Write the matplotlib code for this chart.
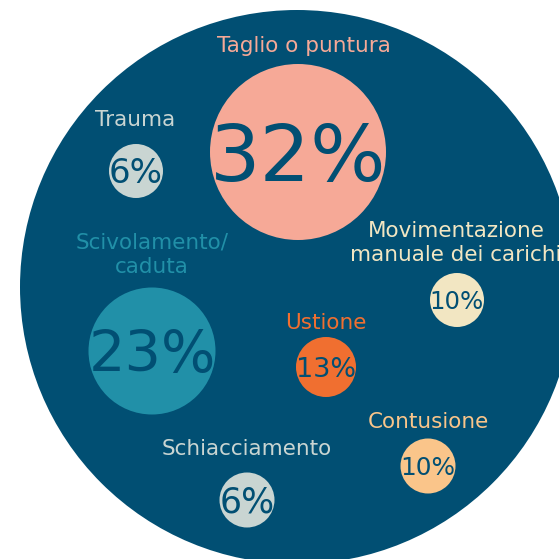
import matplotlib
matplotlib.use("Agg")
import matplotlib.pyplot as plt
from matplotlib.patches import Circle

# dati
categorie = ["Taglio o puntura", "Trauma", "Scivolamento/\ncaduta",
             "Movimentazione\nmanuale dei carichi", "Ustione",
             "Contusione", "Schiacciamento"]
percentuali = [32, 6, 23, 10, 13, 10, 6]

# layout (pixel)
bolla_x = [298, 136, 152, 457, 326, 428, 247]
bolla_y = [152, 171, 351, 300, 367, 466, 500]
bolla_r = [88, 27, 63.5, 27, 30, 27.5, 27.5]
etich_y = [46, 120, 255, 243, 323, 422, 449]
etich_x = [304, 135, 152, 456, 326, 428, 247]

blu = "#014f73"
colori = ["#f6a997", "#c9d5d2", "#2190a8", "#f2e6c2", "#f06f30", "#fac58a", "#c9d5d2"]
colori_testo = ["#f6a997", "#c9d5d2", "#2190a8", "#f2e6c2", "#f06f30", "#fac58a", "#c9d5d2"]

W = 559
fig = plt.figure(figsize=(W / 100, W / 100), dpi=100)
ax = fig.add_axes([0, 0, 1, 1])
ax.set_xlim(0, W)
ax.set_ylim(W, 0)
ax.set_aspect("equal")
ax.axis("off")

# cerchio grande di sfondo
ax.add_patch(Circle((297, 287), 277, color=blu, lw=0))

fig.canvas.draw()
renderer = fig.canvas.get_renderer()

for i in range(len(categorie)):
    ax.add_patch(Circle((bolla_x[i], bolla_y[i]), bolla_r[i], color=colori[i], lw=0))

    # testo percentuale largo quanto il diametro della bolla
    t = ax.text(0, 0, f"{percentuali[i]}%", fontsize=20, family="DejaVu Sans",
                ha="center", va="baseline", color=blu)
    w = t.get_window_extent(renderer).width
    fs = 20 * (2 * bolla_r[i]) / w
    t.set_fontsize(fs)
    altezza = 0.729 * fs * 100 / 72
    t.set_position((bolla_x[i], bolla_y[i] + altezza / 2))

    ax.text(etich_x[i], etich_y[i], categorie[i], fontsize=15.5, color=colori_testo[i],
            ha="center", va="center", linespacing=1.25, family="DejaVu Sans")

fig.savefig("out.png", dpi=100)
